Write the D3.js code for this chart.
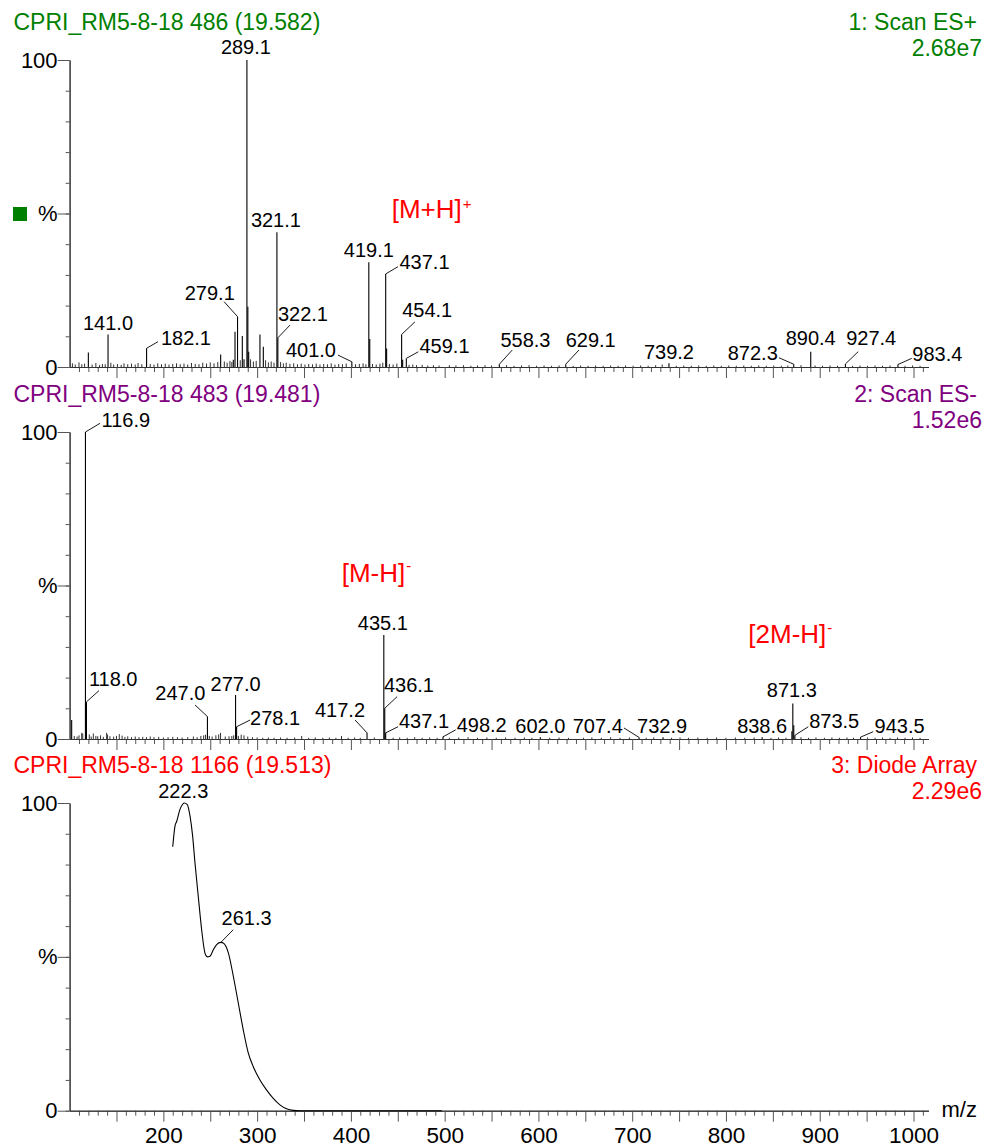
<!DOCTYPE html>
<html><head><meta charset="utf-8">
<script src="https://cdn.jsdelivr.net/npm/d3@7"></script>
<style>body{margin:0;background:#fff;} svg{display:block;}</style>
</head><body><svg id="c" width="987" height="1148"></svg>
<script>
// ---------------- data ----------------
const panelTitles = ["CPRI_RM5-8-18 486 (19.582)", "CPRI_RM5-8-18 483 (19.481)", "CPRI_RM5-8-18 1166 (19.513)"];
const scanLabels = ["1: Scan ES+", "2: Scan ES-", "3: Diode Array"];
const scaleLabels = ["2.68e7", "1.52e6", "2.29e6"];
const panelColors = ["#008000", "#800080", "#ff0000"];
const xTickLabels = [200, 300, 400, 500, 600, 700, 800, 900, 1000];
const yTickValues = [0, 50, 100];
const yTickLabels = ["0", "%", "100"];
const xAxisTitle = "m/z";

// Panel 1 : ES+ (m/z, % intensity)
const ms1Peaks = [[120.0,4.7],[141.0,10.6],[182.1,6.1],[261.1,4.1],[274.6,2.4],[276.4,11.5],[279.1,16.4],[284.2,10.1],[286.0,2.5],
  [289.1,100],[290.1,19.6],[291.0,5.0],[303.0,10.6],[306.6,6.6],[321.1,43.9],[322.1,9.5],[401.0,1.7],[419.1,34.1],[420.1,9.1],
  [437.1,30.3],[438.1,6.0],[454.1,10.6],[455.2,2.4],[459.1,2.8],[558.3,0.9],[629.1,0.9],[739.2,1.2],[872.3,0.9],[890.4,5.0],
  [927.4,1.0],[983.4,0.8]];
const ms1Labels = ["141.0","182.1","279.1","289.1","321.1","322.1","401.0","419.1","437.1","454.1","459.1","558.3","629.1","739.2","872.3","890.4","927.4","983.4"];
const ms1Noise = [[103,1.2],[106,0.8],[110,1.5],[113,0.9],[116,1.1],[124,0.8],[128,1.3],[132,0.7],[135,1.0],[138,0.9],[144,1.4],[147,0.8],
  [151,1.0],[155,0.7],[158,1.2],[162,0.9],[166,1.1],[170,0.8],[173,1.3],[177,0.9],[186,1.0],[190,0.8],[194,1.2],[198,0.9],[202,1.1],
  [206,0.8],[210,1.0],[214,1.2],[218,0.9],[222,1.1],[226,0.8],[230,1.3],[234,1.0],[238,0.9],[242,1.4],[246,1.1],[250,1.5],[254,1.2],
  [258,1.6],[265,1.8],[268,1.4],[271,2.0],[273,1.6],[282,2.2],[293,2.5],[296,1.8],[299,2.0],[309,2.2],[312,1.5],[315,1.8],[318,1.4],
  [325,1.6],[328,1.2],[331,1.4],[335,1.0],[339,1.2],[343,0.9],[347,1.1],[351,0.8],[355,1.0],[359,0.9],[363,1.1],[367,0.8],[371,1.0],
  [375,0.9],[379,1.2],[383,0.8],[387,1.0],[391,0.9],[395,1.1],[405,0.9],[409,1.0],[413,1.2],[416,0.9],[423,1.0],[427,0.8],[431,1.1],
  [434,1.4],[441,1.0],[445,0.8],[449,1.1],[462,0.7],[466,0.8],[470,0.6],[476,0.7],[482,0.5],[488,0.6],[494,0.5],[505,0.6],[512,0.5],
  [520,0.6],[528,0.4],[535,0.5],[543,0.6],[550,0.5],[566,0.6],[574,0.4],[582,0.5],[590,0.6],[598,0.4],[606,0.5],[614,0.4],[622,0.5],
  [637,0.4],[645,0.5],[653,0.4],[661,0.5],[669,0.4],[677,0.5],[685,0.4],[693,0.5],[701,0.4],[709,0.5],[717,0.4],[725,0.6],[732,0.8],
  [747,0.4],[755,0.5],[763,0.4],[771,0.5],[779,0.4],[787,0.5],[795,0.4],[803,0.5],[811,0.4],[819,0.5],[827,0.4],[835,0.5],[843,0.4],
  [851,0.5],[859,0.4],[866,0.5],[880,0.6],[895,0.5],[903,0.4],[911,0.5],[919,0.4],[935,0.4],[943,0.5],[951,0.4],[959,0.5],[967,0.4],
  [975,0.5],[991,0.4],[999,0.5],[1007,0.4]];

// Panel 2 : ES- (m/z, % intensity)
const ms2Peaks = [[102.2,6.2],[116.9,100],[118.0,12.1],[247.0,7.3],[277.0,14.3],[278.1,4.0],[417.2,2.0],[435.1,33.9],[436.1,10.0],
  [437.1,2.0],[498.2,0.7],[602.0,0.6],[707.4,0.5],[732.9,0.6],[838.6,0.6],[870.3,2.5],[871.3,11.6],[872.3,4.5],[873.5,1.2],[943.5,0.6]];
const ms2Labels = ["116.9","118.0","247.0","277.0","278.1","417.2","435.1","436.1","437.1","498.2","602.0","707.4","732.9","838.6","871.3","873.5","943.5"];
const ms2Noise = [[105,1.0],[108,0.8],[110,1.2],[112.9,2.0],[114,1.8],[121,1.5],[123,0.8],[125.3,1.8],[128,1.0],[130,0.9],[133,1.2],
  [136,0.7],[139.5,2.0],[140.5,1.4],[143,0.9],[147,0.8],[150,1.0],[153,1.6],[156,1.1],[159,0.7],[162,0.9],[166,0.6],[170,0.8],[174,0.6],
  [178,0.7],[182,0.6],[186,0.8],[190,0.6],[195,0.7],[200,0.5],[205,0.6],[210,0.7],[215,0.6],[220,0.5],[226,0.6],[232,0.8],[236,0.6],
  [240,1.0],[243,1.2],[245,1.4],[249,1.0],[252,0.8],[256,1.2],[259,1.5],[261,2.0],[266,0.8],[270,0.9],[273,1.0],[275,1.2],[280,1.0],
  [283,1.4],[286,1.2],[290,0.8],[295,0.6],[300,0.5],[306,0.4],[312,0.5],[318,0.4],[325,0.5],[332,0.4],[340,0.5],[347.5,1.0],[355,0.4],
  [362,0.5],[370,0.4],[377,0.5],[384,0.4],[390,1.0],[397,0.4],[404,0.5],[410,0.4],[425,0.5],[445,0.4],[452,0.5],[460,0.4],[468,0.6],
  [476,0.4],[484,0.5],[492,0.4],[505,0.4],[515,0.5],[525,0.6],[535,0.4],[545,0.5],[555,0.4],[565,0.5],[575,0.4],[585,0.5],[593,0.4],
  [612,0.4],[622,0.5],[632,0.4],[648,0.4],[657,0.5],[667,0.4],[677,0.6],[687,0.4],[697,0.5],[715,0.4],[723,0.5],[742,0.4],[751,0.5],
  [760,0.4],[770,0.5],[780,0.4],[790,0.5],[800,0.4],[810,0.5],[820,0.4],[830,0.5],[848,0.4],[856,0.5],[864,0.4],[880,0.6],[888,0.4],
  [896,0.5],[905,0.4],[913,0.5],[921,0.4],[929,0.5],[936,0.4],[951,0.5],[959,0.4],[967,0.5],[975,0.4],[983,0.5],[991,0.4],[999,0.5],[1007,0.4]];

// Panel 3 : Diode array spectrum (nm, % absorbance)
const uvWavelength = [210,212.4,214.2,217.8,220.6,222.3,225.5,228.4,231.2,233.7,237.2,240.8,244.3,246.8,249.7,253.3,256.8,261.3,263.9,
  269.3,274.6,279.9,285.2,290.6,295.9,303,310.2,317.2,324.3,331.4,338.5,345.6,360,400,450,497];
const uvAbs = [85.8,92.5,94,98,99.6,100,99.5,95.8,89.3,80.6,69.7,58.9,51.3,50,50.2,52.3,54,54.7,54.5,
  51.3,43.7,35,26.3,18.7,14.3,10,6.7,4,1.9,0.6,0.1,0,0,0,0,0];
const uvLabels = ["222.3","261.3"];

const ionAnnotations = [
  {panel:0, main:"[M+H]", sup:"+"},
  {panel:1, main:"[M-H]", sup:"-"},
  {panel:1, main:"[2M-H]", sup:"-"}
];

// ---------------- layout ----------------
const FONT = "'Liberation Sans', Arial, Helvetica, sans-serif";
const panelTop = [60, 432, 803];
const panelBottom = [367, 739, 1110.7];
// label layout: t = text centre/baseline offset from peak top, l = leader end offset
const labelLayout = [
  {"141.0":{t:[0,-4.5]}, "182.1":{l:[11.4,-6.6],t:[39.4,-3.3]}, "279.1":{l:[-13.5,-15],t:[-27.8,-16.7]},
   "289.1":{t:[-1,-6]}, "321.1":{t:[-1,-5.6]}, "322.1":{l:[12.1,-12.7],t:[25.1,-16.7]},
   "401.0":{l:[-13.9,-6.7],t:[-40.9,-4.7]}, "419.1":{t:[0,-5.6]}, "437.1":{l:[12.3,-7.3],t:[38.8,-5]},
   "454.1":{l:[13.3,-12.6],t:[25.6,-17.6]}, "459.1":{l:[12,-6.6],t:[38.2,-5.3]}, "558.3":{l:[12.9,-14.2],t:[26.1,-17.5]},
   "629.1":{l:[13.2,-14.2],t:[25,-17.5]}, "739.2":{t:[0,-4.3]}, "872.3":{l:[-14.8,-6.5],t:[-41,-4.2]},
   "890.4":{t:[0,-6.7]}, "927.4":{l:[12.8,-12.3],t:[25.8,-19]}, "983.4":{l:[13.8,-6.2],t:[39.4,-3.5]}},
  {"116.9":{l:[14.6,-8.7],t:[40.4,-5.3]}, "118.0":{l:[12.5,-11.2],t:[26.7,-15.9]}, "247.0":{l:[-12.4,-11.6],t:[-27.1,-16.6]},
   "277.0":{t:[0,-4.4]}, "278.1":{l:[13.5,-6.7],t:[38.5,-1.7]}, "417.2":{l:[-12,-12.9],t:[-27,-16.2]},
   "435.1":{t:[-1,-5]}, "436.1":{l:[12.3,-11.6],t:[24.2,-16.6]}, "437.1":{l:[12.4,-6.2],t:[38.3,-4.6]},
   "498.2":{l:[12.7,-7],t:[38.7,-5.2]}, "602.0":{t:[0,-4.5]}, "707.4":{l:[-15.2,-9.5],t:[-41.4,-4.8]},
   "732.9":{t:[-1,-4.5]}, "838.6":{t:[0,-4.5]}, "871.3":{t:[-1,-6.1]}, "873.5":{l:[13.4,-8.6],t:[39.3,-7]},
   "943.5":{l:[12.7,-5.5],t:[39.1,-4.5]}},
  {"222.3":{t:[-1,-4.7]}, "261.3":{l:[12.4,-12.7],t:[25.8,-17.7]}}
];
const annotationPos = [[391.7,218.3,-9],[341.7,581.7,-11],[748.3,643.3,-10]];

const svg = d3.select("#c");
const x = d3.scaleLinear().domain([100, 1000]).range([69.6, 913.5]);
const axisEnd = 1016;
const xAxisScale = x.copy().domain([100, axisEnd]).range([x(100), x(axisEnd)]);

const peakSets = [ms1Peaks, ms2Peaks, null];
const noiseSets = [ms1Noise, ms2Noise, null];
const labelSets = [ms1Labels, ms2Labels, uvLabels];

for (let p = 0; p < 3; p++) {
  const y = d3.scaleLinear().domain([0, 100]).range([panelBottom[p], panelTop[p]]);
  const g = svg.append("g");

  // titles
  g.append("text").attr("x", 13.5).attr("y", panelTop[p] - 30).attr("fill", panelColors[p])
    .attr("font-family", FONT).attr("font-size", 23).text(panelTitles[p]);
  g.append("text").attr("x", 977).attr("y", panelTop[p] - 30).attr("text-anchor", "end").attr("fill", panelColors[p])
    .attr("font-family", FONT).attr("font-size", 23).text(scanLabels[p]);
  g.append("text").attr("x", 982).attr("y", panelTop[p] - 4.5).attr("text-anchor", "end").attr("fill", panelColors[p])
    .attr("font-family", FONT).attr("font-size", 23).text(scaleLabels[p]);

  // y axis: minor and major ticks
  const yMinor = d3.axisLeft(y).tickValues(d3.range(0, 101, 10)).tickSize(4).tickSizeOuter(0).tickFormat("");
  const yMajor = d3.axisLeft(y).tickValues(yTickValues).tickSize(12).tickSizeOuter(0).tickPadding(0)
    .tickFormat((d, i) => yTickLabels[i]);
  const ga = g.append("g").attr("transform", `translate(${x(100)},0)`);
  ga.append("g").call(yMinor);
  ga.append("g").call(yMajor);
  ga.selectAll("path.domain").attr("stroke", "#333");
  ga.selectAll(".tick line").attr("stroke", "#555");
  ga.selectAll(".tick text").attr("font-family", FONT).attr("font-size", 22).attr("fill", "#000");

  // x axis
  const xMinor = d3.axisBottom(xAxisScale).tickValues(d3.range(110, 1011, 10).filter(v => v % 50 !== 0)).tickSize(5).tickSizeOuter(0).tickFormat("");
  const xMajor = d3.axisBottom(xAxisScale).tickValues(d3.range(150, 1001, 50)).tickSize(11).tickSizeOuter(0).tickPadding(5)
    .tickFormat(v => (p === 2 && xTickLabels.includes(v)) ? String(v) : "");
  const gx = g.append("g").attr("transform", `translate(0,${panelBottom[p]})`);
  gx.append("g").call(xMinor);
  gx.append("g").call(xMajor);
  gx.selectAll("path.domain").attr("stroke", "#333");
  gx.selectAll(".tick line").attr("stroke", "#555");
  gx.selectAll(".tick text").attr("font-family", FONT).attr("font-size", 22.5).attr("fill", "#000");

  const lay = labelLayout[p];
  let pts = [];
  if (p < 2) {
    // noise
    g.append("g").selectAll("line").data(noiseSets[p]).join("line")
      .attr("x1", d => x(d[0])).attr("x2", d => x(d[0]))
      .attr("y1", y(0)).attr("y2", d => y(d[1]))
      .attr("stroke", "#333").attr("stroke-width", 1);
    // peaks
    g.append("g").selectAll("line").data(peakSets[p]).join("line")
      .attr("x1", d => x(d[0])).attr("x2", d => x(d[0]))
      .attr("y1", y(0)).attr("y2", d => y(d[1]))
      .attr("stroke", "#000").attr("stroke-width", 1.1);
    pts = labelSets[p].map(s => {
      const pk = peakSets[p].find(d => d[0].toFixed(1) === s);
      return {s, px: x(pk[0]), py: y(pk[1])};
    });
  } else {
    const uvData = uvWavelength.map((w, i) => [w, uvAbs[i]]);
    g.append("path").datum(uvData)
      .attr("d", d3.line().x(d => x(d[0])).y(d => y(d[1])).curve(d3.curveMonotoneX))
      .attr("fill", "none").attr("stroke", "#000").attr("stroke-width", 1.1);
    pts = labelSets[p].map(s => {
      const i = uvWavelength.findIndex(w => w.toFixed(1) === s);
      return {s, px: x(uvWavelength[i]), py: y(uvAbs[i])};
    });
  }
  // labels
  pts.forEach(d => {
    const L = lay[d.s];
    if (L.l) {
      g.append("line").attr("x1", d.px).attr("y1", d.py).attr("x2", d.px + L.l[0]).attr("y2", d.py + L.l[1])
        .attr("stroke", "#000").attr("stroke-width", 0.9);
    }
    g.append("text").attr("x", d.px + L.t[0]).attr("y", d.py + L.t[1]).attr("text-anchor", "middle")
      .attr("font-family", FONT).attr("font-size", 20).attr("fill", "#000").text(d.s);
  });
}

// green marker square in panel 1
svg.append("rect").attr("x", 13).attr("y", 207).attr("width", 14).attr("height", 14).attr("fill", panelColors[0]);

// ion annotations
ionAnnotations.forEach((a, i) => {
  const [ax, ay, sdy] = annotationPos[i];
  const t = svg.append("text").attr("x", ax).attr("y", ay).attr("font-family", FONT).attr("font-size", 26).attr("fill", "#ff0000");
  t.append("tspan").text(a.main);
  t.append("tspan").attr("dy", sdy).attr("dx", 1).attr("font-size", 15).text(a.sup);
});

// axis title
svg.append("text").attr("x", 941.5).attr("y", 1117).attr("font-family", FONT).attr("font-size", 22).attr("fill", "#000").text(xAxisTitle);
</script></body></html>
